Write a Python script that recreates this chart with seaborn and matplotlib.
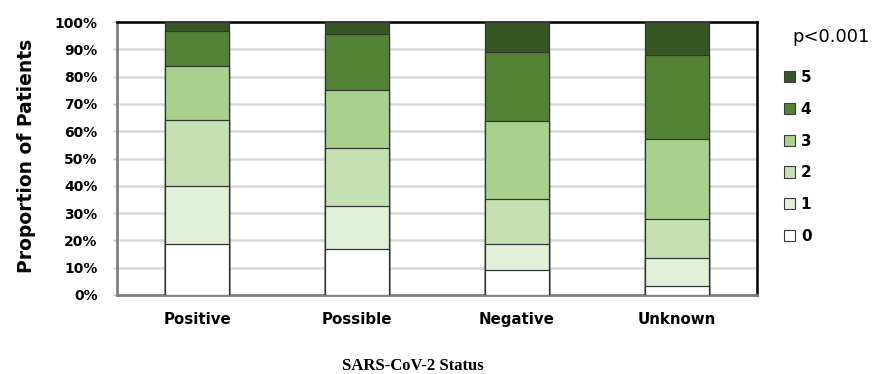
import matplotlib
matplotlib.use("Agg")
import matplotlib.pyplot as plt
from matplotlib.patches import Patch
import numpy as np
import pandas as pd
import seaborn as sns

# SARS-CoV-2 status groups
statuses = ["Positive", "Possible", "Negative", "Unknown"]

# share of patients (%) in each score level, per status group
score_0 = [18.6, 16.8, 9.0, 3.4]
score_1 = [21.2, 15.7, 9.8, 10.3]
score_2 = [24.3, 21.3, 16.3, 14.2]
score_3 = [19.9, 21.4, 28.6, 29.1]
score_4 = [12.6, 20.3, 25.4, 31.0]
score_5 = [3.4, 4.5, 10.9, 12.0]

levels = ["0", "1", "2", "3", "4", "5"]
colors = ["#ffffff", "#e2efd9", "#c5e0b3", "#a9d18e", "#548235", "#375623"]

sns.set_theme(style="white")
plt.rcParams["font.family"] = ["DejaVu Sans"]
plt.rcParams["text.color"] = "black"
plt.rcParams["axes.labelcolor"] = "black"
plt.rcParams["xtick.labelcolor"] = "black"
plt.rcParams["ytick.labelcolor"] = "black"

df = pd.DataFrame({"status": statuses, "0": score_0, "1": score_1, "2": score_2,
                   "3": score_3, "4": score_4, "5": score_5})
cum = df[levels].cumsum(axis=1)

fig = plt.figure(figsize=(8.72, 3.74), dpi=100)
ax = fig.add_axes([117 / 872, 79 / 374, 640 / 872, 273 / 374])

# stacked bars: draw cumulative totals from the top level down
for lvl, col in zip(reversed(levels), reversed(colors)):
    sns.barplot(x=df["status"], y=cum[lvl], order=statuses, color=col,
                width=0.4, edgecolor="#333333", linewidth=0.9, ax=ax,
                saturation=1, zorder=3)

ax.set_xlim(-0.5, 3.5)
ax.set_ylim(0, 100)
ax.set_yticks(np.arange(0, 101, 10))
ax.set_yticklabels([f"{v}%" for v in range(0, 101, 10)], fontsize=10, fontweight="bold")
ax.set_xticks(range(4))
ax.set_xticklabels(statuses, fontsize=10.8, fontweight="bold")
ax.tick_params(axis="x", length=0, pad=12, labelcolor="black")
ax.tick_params(axis="y", length=3, width=1, color="#bfbfbf", pad=11, left=True,
               labelcolor="black")
ax.yaxis.grid(True, color="#d9d9d9", linewidth=1.8, zorder=0)
ax.set_axisbelow(True)

ax.set_xlabel("")
ax.set_ylabel("Proportion of Patients", fontsize=13.5, fontweight="bold", color="black")
ax.yaxis.set_label_coords((36 - 117) / 640, 0.51)

for side in ["top", "right"]:
    ax.spines[side].set_color("#000000")
    ax.spines[side].set_linewidth(1.8)
for side in ["left", "bottom"]:
    ax.spines[side].set_color("#7f7f7f")
    ax.spines[side].set_linewidth(2.0)

fig.text(413 / 872, 1 - 366 / 374, "SARS-CoV-2 Status", ha="center", va="center",
         fontsize=12, fontweight="bold", family="Liberation Serif", color="black")

fig.text(792 / 872, 1 - 37 / 374, "p<0.001", ha="left", va="center", fontsize=13,
         color="black")

handles = [Patch(facecolor=c, edgecolor="#3a3a3a", linewidth=0.8, label=l)
           for l, c in zip(reversed(levels), reversed(colors))]
fig.legend(handles=handles, loc="upper left", bbox_to_anchor=(784 / 872, 1 - 70 / 374),
           frameon=False, prop={"weight": "bold", "size": 11}, handlelength=0.75,
           handleheight=0.75, handletextpad=0.35, labelspacing=1.1, borderpad=0,
           borderaxespad=0, labelcolor="black")

fig.savefig("out.png", dpi=100)
